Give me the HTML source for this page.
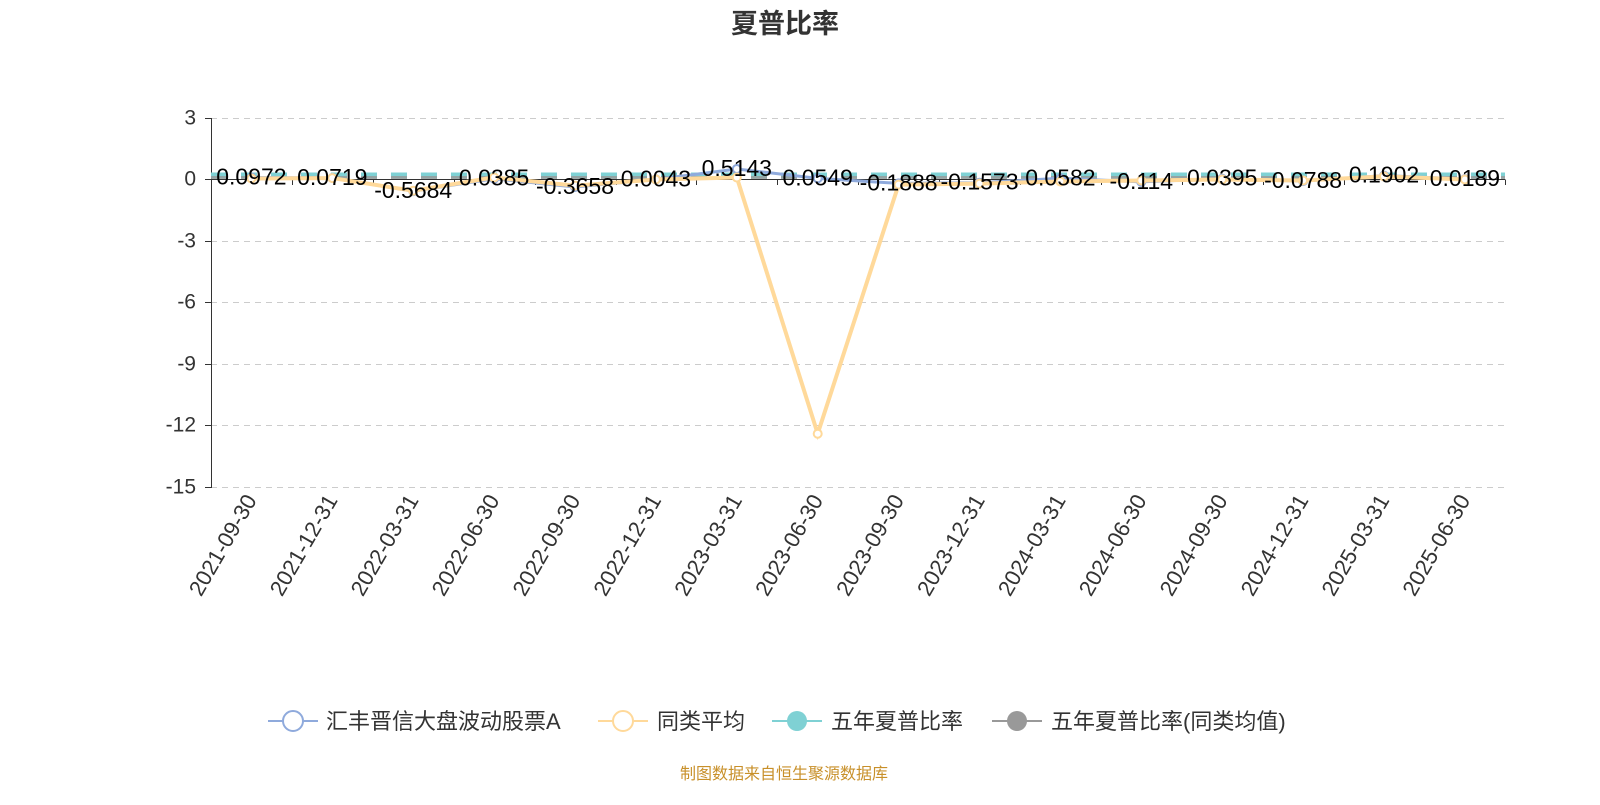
<!DOCTYPE html>
<html><head><meta charset="utf-8"><style>
body{margin:0;background:#fff;}
svg text{font-family:"Liberation Sans","Noto Sans CJK SC",sans-serif;}
</style></head><body>
<svg width="1600" height="800" xmlns="http://www.w3.org/2000/svg">
<text x="785" y="33" font-size="27" font-weight="bold" fill="#333" text-anchor="middle">夏普比率</text>
<g stroke="#ccc" stroke-dasharray="6,5" stroke-width="1">
<line x1="211" x2="1505" y1="118.5" y2="118.5"/>
<line x1="211" x2="1505" y1="241.5" y2="241.5"/>
<line x1="211" x2="1505" y1="302.5" y2="302.5"/>
<line x1="211" x2="1505" y1="364.5" y2="364.5"/>
<line x1="211" x2="1505" y1="425.5" y2="425.5"/>
<line x1="211" x2="1505" y1="487.5" y2="487.5"/>
</g>
<g font-size="21" fill="#333" text-anchor="end" dominant-baseline="central">
<text x="196" y="118">3</text><text x="196" y="179">0</text><text x="196" y="241">-3</text><text x="196" y="302">-6</text><text x="196" y="364">-9</text><text x="196" y="425">-12</text><text x="196" y="487">-15</text>
</g>
<line x1="211.5" y1="118" x2="211.5" y2="488" stroke="#333"/>
<g stroke="#333"><line x1="205" x2="211" y1="118.5" y2="118.5"/><line x1="205" x2="211" y1="179.5" y2="179.5"/><line x1="205" x2="211" y1="241.5" y2="241.5"/><line x1="205" x2="211" y1="302.5" y2="302.5"/><line x1="205" x2="211" y1="364.5" y2="364.5"/><line x1="205" x2="211" y1="425.5" y2="425.5"/><line x1="205" x2="211" y1="487.5" y2="487.5"/></g>
<line x1="211" y1="179.5" x2="1505" y2="179.5" stroke="#333"/>
<g stroke="#333" id="ticks"></g>
<line x1="211" y1="175.5" x2="1505" y2="175.5" stroke="#7fd1d4" stroke-width="6" stroke-dasharray="16,14"/>
<line x1="211" y1="177.5" x2="1505" y2="177.5" stroke="#999" stroke-width="3" stroke-dasharray="16,14" opacity="0.8"/>
<g id="series"></g>
<g id="labels" font-size="23" fill="#000" text-anchor="middle" dominant-baseline="central"></g>
<g id="xl" font-size="22" fill="#333" text-anchor="end"></g>
<g font-size="22" fill="#333">
<line x1="268" x2="318" y1="721" y2="721" stroke="#8faadc" stroke-width="2"/><circle cx="293" cy="721" r="10" fill="#fff" stroke="#8faadc" stroke-width="2"/>
<text x="326" y="729">汇丰晋信大盘波动股票A</text>
<line x1="598" x2="648" y1="721" y2="721" stroke="#ffd99a" stroke-width="2"/><circle cx="623" cy="721" r="10" fill="#fff" stroke="#ffd99a" stroke-width="2"/>
<text x="657" y="729">同类平均</text>
<line x1="772" x2="822" y1="721" y2="721" stroke="#7fd1d4" stroke-width="2"/><circle cx="797" cy="721" r="10" fill="#7fd1d4"/>
<text x="831" y="729">五年夏普比率</text>
<line x1="992" x2="1042" y1="721" y2="721" stroke="#999" stroke-width="2"/><circle cx="1017" cy="721" r="10" fill="#999"/>
<text x="1051" y="729">五年夏普比率(同类均值)</text>
</g>
<text x="784" y="779" font-size="16" fill="#c8902a" text-anchor="middle">制图数据来自恒生聚源数据库</text>
</svg>
<script>
const ns="http://www.w3.org/2000/svg";
const dates=["2021-09-30","2021-12-31","2022-03-31","2022-06-30","2022-09-30","2022-12-31","2023-03-31","2023-06-30","2023-09-30","2023-12-31","2024-03-31","2024-06-30","2024-09-30","2024-12-31","2025-03-31","2025-06-30"];
const fund=[0.0972,0.0719,-0.5684,0.0385,-0.3658,0.0043,0.5143,0.0549,-0.1888,-0.1573,0.0582,-0.114,0.0395,-0.0788,0.1902,0.0189];
const avg=[0.05,0.07,-0.55,0.1,-0.3,0.0,0.1,-12.4,-0.25,-0.2,-0.1,-0.05,0.0,-0.05,0.15,0.0];
const X=i=>251.4+80.9*i, Y=v=>179.5-v*20.5;
function el(t,a,p){const e=document.createElementNS(ns,t);for(const k in a)e.setAttribute(k,a[k]);p.appendChild(e);return e;}
const tk=document.getElementById("ticks");
for(let k=0;k<=16;k++){const x=Math.round(211+80.9*k)+0.5;el("line",{x1:x,x2:x,y1:179.5,y2:185},tk);}
const s=document.getElementById("series");
el("polyline",{points:fund.map((v,i)=>X(i)+","+Y(v)).join(" "),fill:"none",stroke:"#8faadc","stroke-width":3},s);
fund.forEach((v,i)=>el("circle",{cx:X(i),cy:Y(v),r:4,fill:"#fff",stroke:"#8faadc","stroke-width":2},s));
el("polyline",{points:avg.map((v,i)=>X(i)+","+Y(v)).join(" "),fill:"none",stroke:"#ffd99a","stroke-width":4},s);
avg.forEach((v,i)=>el("circle",{cx:X(i),cy:Y(v),r:4,fill:"#fff",stroke:"#ffd99a","stroke-width":2},s));
const lb=document.getElementById("labels");
fund.forEach((v,i)=>{const t=el("text",{x:X(i),y:Y(v)-1},lb);t.textContent=String(v);});
const xl=document.getElementById("xl");
dates.forEach((d,i)=>{const t=el("text",{x:X(i)+6,y:500,transform:`rotate(-60 ${X(i)+6} 500)`},xl);t.textContent=d;});
</script>
</body></html>
